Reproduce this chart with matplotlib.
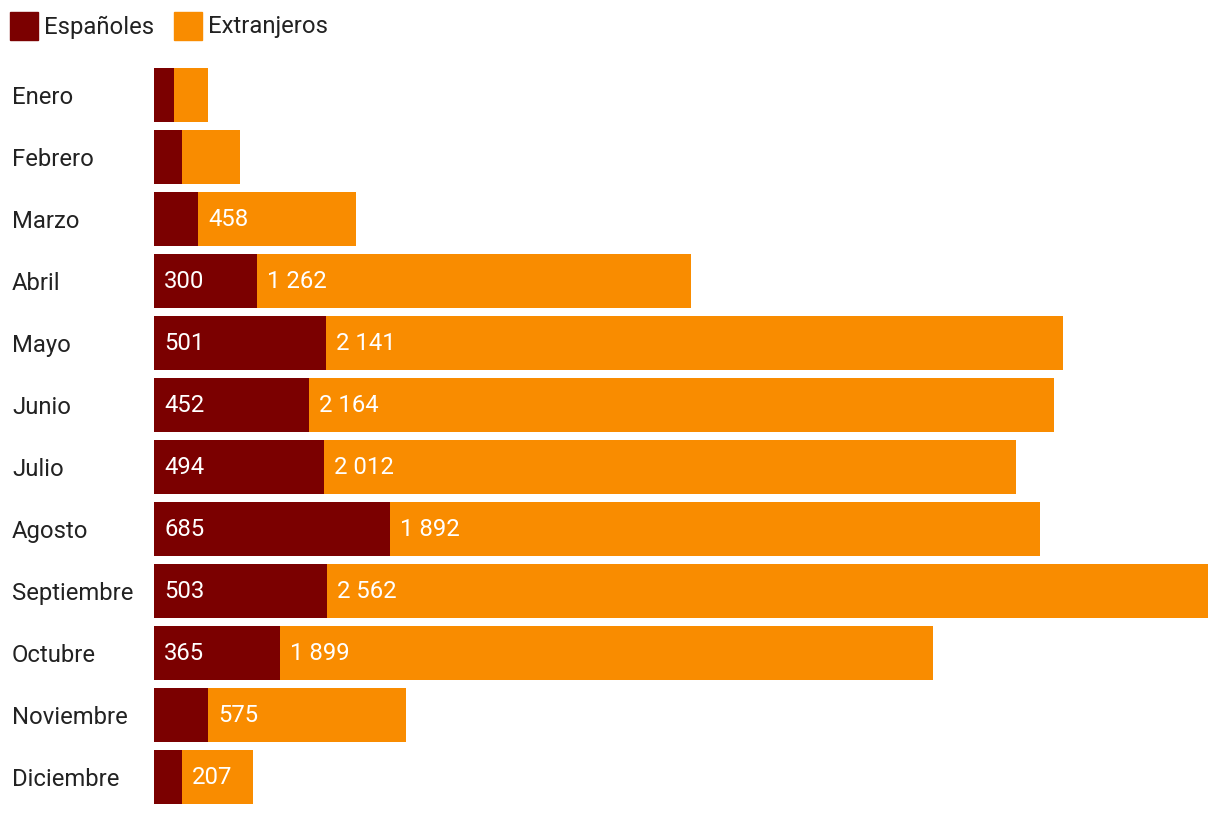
import matplotlib.pyplot as plt
from matplotlib.patches import Rectangle

# data
meses = ["Enero", "Febrero", "Marzo", "Abril", "Mayo", "Junio", "Julio",
         "Agosto", "Septiembre", "Octubre", "Noviembre", "Diciembre"]
espanoles = [58, 81, 128, 300, 501, 452, 494, 685, 503, 365, 157, 81]
extranjeros = [99, 169, 458, 1262, 2141, 2164, 2012, 1892, 2562, 1899, 575, 207]

color_esp = "#7b0000"
color_ext = "#f98c00"
text_color = "#222222"
fs = 17.2

plt.rcParams['font.family'] = ['Roboto', 'DejaVu Sans']


def fmt(v):
    # thousands separator with a space
    return f"{v:,}".replace(",", " ")


fig = plt.figure(figsize=(12.2, 8.16), dpi=100)
ax = fig.add_axes([154 / 1220, 1 - 808 / 816, 1054 / 1220, 744 / 816])

y = range(len(meses))
h = 54 / 62
ax.barh(y, espanoles, height=h, color=color_esp)
ax.barh(y, extranjeros, left=espanoles, height=h, color=color_ext)

# value labels only where the segment is wide enough
for i, (e, x) in enumerate(zip(espanoles, extranjeros)):
    if e >= 200:
        ax.annotate(fmt(e), (0, i), xytext=(10, 0), textcoords="offset pixels",
                    color="white", fontsize=fs, va="center", ha="left")
    if x >= 200:
        ax.annotate(fmt(x), (e, i), xytext=(10, 0), textcoords="offset pixels",
                    color="white", fontsize=fs, va="center", ha="left")

ax.set_xlim(0, max(a + b for a, b in zip(espanoles, extranjeros)))
ax.set_ylim(len(meses) - 0.5, -0.5)
ax.set_yticks(list(y))
ax.set_yticklabels(meses, fontsize=fs, color=text_color, ha="left")
# pad is in points: 142 px at 100 dpi
ax.tick_params(axis="y", length=0, pad=142 * 0.72)
ax.set_xticks([])
for s in ax.spines.values():
    s.set_visible(False)

# legend drawn by hand at the top left
fig.patches.append(Rectangle((10 / 1220, 1 - 40 / 816), 28 / 1220, 28 / 816,
                             transform=fig.transFigure, color=color_esp))
fig.text(44 / 1220, 1 - 27 / 816, "Españoles", fontsize=fs, color=text_color, va="center")
fig.patches.append(Rectangle((174 / 1220, 1 - 40 / 816), 28 / 1220, 28 / 816,
                             transform=fig.transFigure, color=color_ext))
fig.text(208 / 1220, 1 - 27 / 816, "Extranjeros", fontsize=fs, color=text_color, va="center")

fig.savefig("out.png", dpi=100)
